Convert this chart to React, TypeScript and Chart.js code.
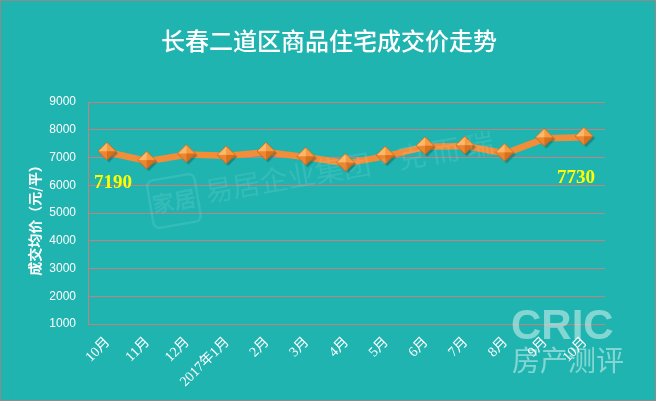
import React, { useEffect, useRef } from 'react';
import { Chart, registerables } from 'chart.js';

Chart.register(...registerables);

const categories = ['10月', '11月', '12月', '2017年1月', '2月', '3月', '4月', '5月', '6月', '7月', '8月', '9月', '10月'];
const prices = [7190, 6870, 7110, 7060, 7190, 7010, 6790, 7050, 7390, 7410, 7150, 7690, 7730];
const yMin = 1000;
const yMax = 9000;
const yStep = 1000;
const labeledIndexes = [0, 12];
const chartTitle = '长春二道区商品住宅成交价走势';
const yTitle = '成交均价（元/平）';

function makeDiamond(r: number): HTMLCanvasElement {
  const s = r * 2 + 6;
  const c = document.createElement('canvas');
  c.width = s;
  c.height = s;
  const ctx = c.getContext('2d')!;
  const cx = s / 2 - 1;
  const cy = s / 2 - 1;
  ctx.fillStyle = 'rgba(0,60,60,0.35)';
  ctx.beginPath();
  ctx.moveTo(cx - r + 2, cy + 2);
  ctx.lineTo(cx + 2, cy - r + 2);
  ctx.lineTo(cx + r + 2, cy + 2);
  ctx.lineTo(cx + 2, cy + r + 2);
  ctx.closePath();
  ctx.fill();
  const facets: [number, number, number, number, string][] = [
    [cx - r, cy, cx, cy - r, '#FCB868'],
    [cx, cy - r, cx + r, cy, '#F69B40'],
    [cx + r, cy, cx, cy + r, '#D8701E'],
    [cx, cy + r, cx - r, cy, '#EC8630'],
  ];
  for (const [x1, y1, x2, y2, col] of facets) {
    ctx.fillStyle = col;
    ctx.beginPath();
    ctx.moveTo(x1, y1);
    ctx.lineTo(x2, y2);
    ctx.lineTo(cx, cy);
    ctx.closePath();
    ctx.fill();
  }
  ctx.strokeStyle = '#C8661A';
  ctx.lineWidth = 0.8;
  ctx.beginPath();
  ctx.moveTo(cx - r, cy);
  ctx.lineTo(cx, cy - r);
  ctx.lineTo(cx + r, cy);
  ctx.lineTo(cx, cy + r);
  ctx.closePath();
  ctx.stroke();
  return c;
}

const bgPlugin = {
  id: 'bgPlugin',
  beforeDraw(chart: any) {
    const ctx = chart.ctx;
    const w = chart.width;
    const h = chart.height;
    ctx.save();
    ctx.fillStyle = '#ffffff';
    ctx.fillRect(0, 0, w, h);
    ctx.fillStyle = '#1FB4B0';
    ctx.fillRect(0, 0, 656, 401);
    ctx.strokeStyle = '#8C8C8C';
    ctx.lineWidth = 1;
    ctx.strokeRect(0.5, 0.5, 655, 400);
    ctx.fillStyle = '#ffffff';
    ctx.font = '500 24px "Noto Sans CJK SC", sans-serif';
    ctx.textAlign = 'center';
    ctx.textBaseline = 'middle';
    ctx.fillText(chartTitle, 329, 41);
    ctx.translate(35, 217);
    ctx.rotate(-Math.PI / 2);
    ctx.font = 'bold 14px "Noto Sans CJK SC", sans-serif';
    ctx.fillText(yTitle, 0, 0);
    ctx.restore();
  },
  afterDraw(chart: any) {
    const ctx = chart.ctx;
    const meta = chart.getDatasetMeta(0);
    ctx.save();
    ctx.fillStyle = '#FFFF00';
    ctx.font = 'bold 19px "Liberation Serif", serif';
    ctx.textAlign = 'center';
    ctx.textBaseline = 'middle';
    labeledIndexes.forEach((i, k) => {
      const p = meta.data[i];
      const dx = k === 0 ? 5 : -9;
      const dy = k === 0 ? 31 : 41;
      ctx.fillText(String(prices[i]), p.x + dx, p.y + dy);
    });
    ctx.save();
    ctx.globalAlpha = 0.1;
    ctx.fillStyle = '#ffffff';
    ctx.strokeStyle = '#ffffff';
    ctx.translate(174, 201);
    ctx.rotate(-0.17);
    ctx.lineWidth = 2.5;
    ctx.beginPath();
    (ctx as any).roundRect ? (ctx as any).roundRect(-24, -24, 48, 48, 6) : ctx.rect(-24, -24, 48, 48);
    ctx.stroke();
    ctx.font = 'bold 22px "Noto Sans CJK SC", sans-serif';
    ctx.textAlign = 'center';
    ctx.textBaseline = 'middle';
    ctx.fillText('家居', 0, 0);
    ctx.textAlign = 'left';
    ctx.font = '28px "Noto Sans CJK SC", sans-serif';
    ctx.fillText('易居企业集团·克 而 瑞', 32, -4);
    ctx.restore();
    ctx.save();
    ctx.globalAlpha = 0.45;
    ctx.fillStyle = '#ffffff';
    ctx.textAlign = 'left';
    ctx.textBaseline = 'alphabetic';
    ctx.font = 'bold 42px "Liberation Sans", Arial, sans-serif';
    ctx.fillText('CRIC', 511, 339);
    ctx.font = '28px "Noto Sans CJK SC", sans-serif';
    ctx.textBaseline = 'middle';
    ctx.fillText('房产测评', 512, 360);
    ctx.restore();
    ctx.restore();
  },
};

export default function App() {
  const ref = useRef<HTMLCanvasElement | null>(null);
  useEffect(() => {
    if (!ref.current) return;
    const diamond = makeDiamond(9);
    const chart = new Chart(ref.current, {
      type: 'line',
      data: {
        labels: categories,
        datasets: [
          {
            data: prices,
            borderColor: '#F28E3A',
            borderWidth: 6.5,
            tension: 0,
            pointStyle: diamond as any,
            pointRadius: 9,
            pointHoverRadius: 9,
            fill: false,
          },
        ],
      },
      options: {
        animation: false,
        responsive: false,
        events: [],
        layout: { padding: { left: 0, right: 52, top: 102, bottom: 0 } },
        plugins: {
          legend: { display: false },
          title: { display: false },
          tooltip: { enabled: false },
        },
        scales: {
          x: {
            offset: true,
            grid: { display: false, drawTicks: false },
            border: { display: false },
            ticks: {
              autoSkip: false,
              minRotation: 45,
              maxRotation: 45,
              padding: 10,
              color: '#ffffff',
              font: { family: '"Liberation Serif", "Noto Sans CJK SC", serif', size: 14 },
            },
            afterFit(scale: any) {
              scale.height = 80;
            },
          },
          y: {
            min: yMin,
            max: yMax,
            grid: { color: '#C47F7F', lineWidth: 1, drawTicks: false },
            border: { display: true, color: '#C47F7F', width: 1 },
            ticks: {
              stepSize: yStep,
              padding: 12,
              color: '#ffffff',
              font: { family: '"Liberation Sans", Arial, sans-serif', size: 12 },
              callback: (v: any) => String(v),
            },
            afterFit(scale: any) {
              scale.width = 88;
            },
          },
        },
      },
      plugins: [bgPlugin],
    });
    return () => chart.destroy();
  }, []);
  return (
    <div style={{ position: 'absolute', left: 0, top: 0, width: 657, height: 404 }}>
      <canvas ref={ref} width={657} height={404} style={{ width: 657, height: 404, display: 'block' }} />
    </div>
  );
}
